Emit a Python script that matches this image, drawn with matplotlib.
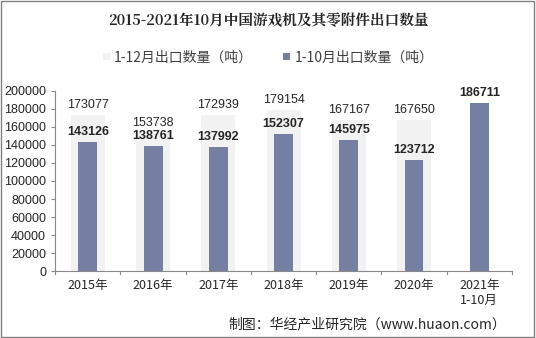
import numpy as np
import matplotlib.pyplot as plt

plt.rcParams['font.family'] = ['Noto Sans CJK SC', 'DejaVu Sans']

years = ['2015年', '2016年', '2017年', '2018年', '2019年', '2020年', '2021年\n1-10月']
full_year = [173077, 153738, 172939, 179154, 167167, 167650, None]
jan_oct = [143126, 138761, 137992, 152307, 145975, 123712, 186711]

x = np.arange(len(years))
fig = plt.figure(figsize=(5.36, 3.38), dpi=100)
fig.patches.append(plt.Rectangle((0.002, 0.003), 0.995, 0.994, transform=fig.transFigure,
                                 fill=False, edgecolor='#808080', linewidth=1))
ax = fig.add_axes([0.103, 0.198, 0.852, 0.533])

fy = [v if v is not None else 0 for v in full_year]
b1 = ax.bar(x, fy, 0.52, color='#f2f2f2', label='1-12月出口数量（吨）', zorder=1)
b2 = ax.bar(x, jan_oct, 0.29, color='#747fa1', label='1-10月出口数量（吨）', zorder=2)

for i, v in enumerate(full_year):
    if v is None:
        continue
    ax.text(x[i], v + 4500, str(v), ha='center', va='bottom', fontsize=9,
            family='Liberation Sans', color='#262626')
for i, v in enumerate(jan_oct):
    ax.text(x[i], v + 4500, str(v), ha='center', va='bottom', fontsize=9,
            family='Liberation Sans', fontweight='bold', color='#262626')

ax.set_xlim(-0.5, len(years) - 0.5)
ax.set_ylim(0, 200000)
ax.set_yticks(range(0, 200001, 20000))
ax.set_xticks(x)
ax.set_xticklabels(years, fontsize=9, color='#262626')
ax.tick_params(axis='y', labelsize=9, labelcolor='#262626', length=3, color='#888888')
ax.tick_params(axis='x', length=0, pad=6)
for lab in ax.get_yticklabels():
    lab.set_family('Liberation Sans')
for s in ['top', 'right']:
    ax.spines[s].set_visible(False)
ax.spines['left'].set_color('#888888')
ax.spines['bottom'].set_color('#888888')
# category separators on x axis
for k in range(len(years) + 1):
    ax.plot([k - 0.5, k - 0.5], [0, -3500], color='#888888', lw=0.8, clip_on=False)

fig.text(0.5, 0.935, '2015-2021年10月中国游戏机及其零附件出口数量', ha='center', va='center',
         fontsize=10.5, fontweight='bold', family=['Noto Serif CJK SC', 'Noto Sans CJK SC'],
         color='#262626')
fig.legend(handles=[b1, b2], loc='center', bbox_to_anchor=(0.5, 0.83), ncol=2, frameon=False,
           fontsize=10, handlelength=0.5, handleheight=0.5, columnspacing=2.2, handletextpad=0.3,
           labelcolor='#404040')

fig.text(0.945, 0.04, '制图：华经产业研究院（www.huaon.com）', ha='right', va='center',
         fontsize=10, color='#262626')

fig.savefig('out.png', dpi=100)
